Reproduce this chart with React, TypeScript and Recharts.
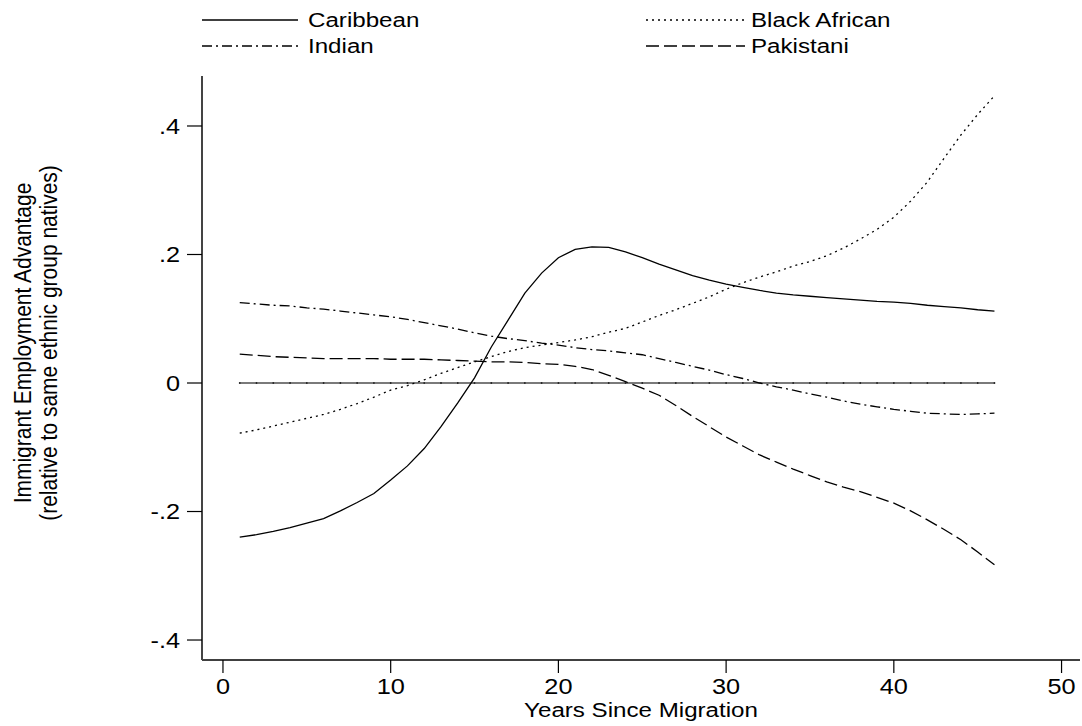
import React from 'react';
import { LineChart, Line, XAxis, YAxis, Legend } from 'recharts';

const years = [1, 2, 3, 4, 5, 6, 7, 8, 9, 10, 11, 12, 13, 14, 15, 16, 17, 18, 19, 20, 21, 22, 23, 24, 25, 26, 27, 28, 29, 30, 31, 32, 33, 34, 35, 36, 37, 38, 39, 40, 41, 42, 43, 44, 45, 46];

const caribbean = [-0.240, -0.236, -0.231, -0.225, -0.218, -0.211, -0.199, -0.186, -0.172, -0.151, -0.129, -0.102, -0.068, -0.031, 0.008, 0.056, 0.098, 0.140, 0.171, 0.195, 0.208, 0.212, 0.211, 0.204, 0.195, 0.185, 0.176, 0.167, 0.160, 0.154, 0.149, 0.144, 0.140, 0.137, 0.135, 0.133, 0.131, 0.129, 0.127, 0.126, 0.124, 0.121, 0.119, 0.117, 0.114, 0.112];

const blackAfrican = [-0.078, -0.073, -0.067, -0.061, -0.055, -0.049, -0.041, -0.032, -0.022, -0.011, -0.004, 0.005, 0.015, 0.024, 0.033, 0.041, 0.049, 0.055, 0.059, 0.063, 0.067, 0.072, 0.079, 0.085, 0.095, 0.105, 0.114, 0.124, 0.134, 0.146, 0.156, 0.165, 0.173, 0.182, 0.189, 0.198, 0.210, 0.224, 0.239, 0.258, 0.283, 0.313, 0.350, 0.386, 0.418, 0.447];

const indian = [0.125, 0.123, 0.121, 0.120, 0.117, 0.115, 0.112, 0.109, 0.106, 0.103, 0.099, 0.094, 0.089, 0.084, 0.078, 0.073, 0.069, 0.066, 0.062, 0.059, 0.055, 0.052, 0.050, 0.047, 0.044, 0.038, 0.032, 0.026, 0.020, 0.013, 0.007, 0.000, -0.006, -0.011, -0.017, -0.022, -0.028, -0.033, -0.037, -0.041, -0.044, -0.047, -0.048, -0.049, -0.048, -0.047];

const pakistani = [0.045, 0.043, 0.041, 0.040, 0.039, 0.038, 0.038, 0.038, 0.038, 0.037, 0.037, 0.037, 0.036, 0.035, 0.034, 0.033, 0.033, 0.032, 0.030, 0.029, 0.026, 0.021, 0.012, 0.002, -0.008, -0.019, -0.035, -0.052, -0.068, -0.084, -0.098, -0.112, -0.123, -0.134, -0.144, -0.154, -0.162, -0.169, -0.178, -0.187, -0.199, -0.213, -0.228, -0.244, -0.263, -0.283];

const natives = [0, 0, 0, 0, 0, 0, 0, 0, 0, 0, 0, 0, 0, 0, 0, 0, 0, 0, 0, 0, 0, 0, 0, 0, 0, 0, 0, 0, 0, 0, 0, 0, 0, 0, 0, 0, 0, 0, 0, 0, 0, 0, 0, 0, 0, 0];

const xTicks = [0, 10, 20, 30, 40, 50];
const yTicks = [-0.4, -0.2, 0, 0.2, 0.4];
const yTickLabels = ['-.4', '-.2', '0', '.2', '.4'];

const seriesNames = ['Caribbean', 'Black African', 'Indian', 'Pakistani'];
const seriesKeys = ['caribbean', 'blackAfrican', 'indian', 'pakistani'];
const seriesDash = ['', '2 4', '10 4 2 4', '13 5'];

const xTitle = 'Years Since Migration';
const yTitle1 = 'Immigrant Employment Advantage';
const yTitle2 = '(relative to same ethnic group natives)';

const FONT = '"Liberation Sans", Arial, Helvetica, sans-serif';
const SX = 1.15;

const rows = years.map((y, i) => ({
  year: y,
  caribbean: caribbean[i],
  blackAfrican: blackAfrican[i],
  indian: indian[i],
  pakistani: pakistani[i],
  natives: natives[i],
}));

const XTick = (props: any) => {
  const { x, y, payload } = props;
  return (
    <g transform={`translate(${x},${y}) scale(${SX},1)`}>
      <text x={0} y={0} dy="0.71em" textAnchor="middle" fontFamily={FONT} fontSize={22} fill="#000">
        {String(payload.value)}
      </text>
    </g>
  );
};

const YTick = (props: any) => {
  const { x, y, payload } = props;
  const idx = yTicks.findIndex((t) => Math.abs(t - payload.value) < 1e-9);
  const label = idx >= 0 ? yTickLabels[idx] : String(payload.value);
  return (
    <g transform={`translate(${x},${y}) scale(${SX},1)`}>
      <text x={0} y={0} dy="0.355em" textAnchor="end" fontFamily={FONT} fontSize={22} fill="#000">
        {label}
      </text>
    </g>
  );
};

const XTitle = (props: any) => {
  const vb = props.viewBox || {};
  const cx = vb.x + vb.width / 2;
  const y = vb.y + 57;
  return (
    <g transform={`translate(${cx},${y}) scale(${SX},1)`}>
      <text x={0} y={0} textAnchor="middle" fontFamily={FONT} fontSize={21} fill="#000">
        {xTitle}
      </text>
    </g>
  );
};

const YTitle = (props: any) => {
  const vb = props.viewBox || {};
  const cy = vb.y + vb.height / 2 - 25;
  return (
    <g>
      <g transform={`translate(31,${cy}) scale(${SX},1) rotate(-90)`}>
        <text x={0} y={0} textAnchor="middle" fontFamily={FONT} fontSize={21} fill="#000">
          {yTitle1}
        </text>
      </g>
      <g transform={`translate(57,${cy}) scale(${SX},1) rotate(-90)`}>
        <text x={0} y={0} textAnchor="middle" fontFamily={FONT} fontSize={21} fill="#000">
          {yTitle2}
        </text>
      </g>
    </g>
  );
};

const legendPos = [
  { lx1: 202, lx2: 298, tx: 308, y: 20 },
  { lx1: 646, lx2: 745, tx: 751, y: 20 },
  { lx1: 202, lx2: 298, tx: 308, y: 46 },
  { lx1: 646, lx2: 745, tx: 751, y: 46 },
];

const LegendContent = () => (
  <svg width={1082} height={62} style={{ display: 'block' }}>
    {seriesNames.map((name, i) => {
      const p = legendPos[i];
      return (
        <g key={name}>
          <line x1={p.lx1} x2={p.lx2} y1={p.y} y2={p.y} stroke="#000" strokeWidth={1.3} strokeDasharray={seriesDash[i] || undefined} />
          <g transform={`translate(${p.tx},${p.y + 7}) scale(${SX},1)`}>
            <text x={0} y={0} fontFamily={FONT} fontSize={21} fill="#000">{name}</text>
          </g>
        </g>
      );
    })}
  </svg>
);

export default function App() {
  return (
    <div style={{ position: 'absolute', left: 0, top: 0, width: 1082, height: 726, background: '#fff' }}>
      <LineChart width={1082} height={726} data={rows} margin={{ top: 76, right: 2, bottom: 6, left: 142 }}>
        <XAxis
          dataKey="year"
          type="number"
          domain={[-1.25, 51.1]}
          ticks={xTicks}
          allowDataOverflow
          tickSize={13}
          tickMargin={5}
          height={60}
          axisLine={{ stroke: '#000', strokeWidth: 1.5 }}
          tickLine={{ stroke: '#000', strokeWidth: 1.2 }}
          tick={<XTick />}
          label={{ content: <XTitle /> } as any}
        />
        <YAxis
          type="number"
          domain={[-0.4311, 0.4778]}
          ticks={yTicks}
          allowDataOverflow
          width={60}
          tickSize={15}
          tickMargin={7}
          axisLine={{ stroke: '#444', strokeWidth: 2 }}
          tickLine={{ stroke: '#000', strokeWidth: 1.2 }}
          tick={<YTick />}
          label={{ content: <YTitle /> } as any}
        />
        <Legend
          layout="vertical"
          align="center"
          verticalAlign="middle"
          wrapperStyle={{ position: 'absolute', top: 0, left: 0, width: 1082, height: 62 }}
          content={<LegendContent />}
        />
        <Line dataKey="natives" name="natives" stroke="#7a7a7a" strokeWidth={2} dot={{ r: 0.9, fill: '#222', stroke: 'none' }} isAnimationActive={false} legendType="none" />
        {seriesKeys.map((k, i) => (
          <Line
            key={k}
            dataKey={k}
            name={seriesNames[i]}
            type="linear"
            stroke="#000"
            strokeWidth={1.3}
            strokeDasharray={seriesDash[i] || undefined}
            dot={false}
            isAnimationActive={false}
          />
        ))}
      </LineChart>
    </div>
  );
}
